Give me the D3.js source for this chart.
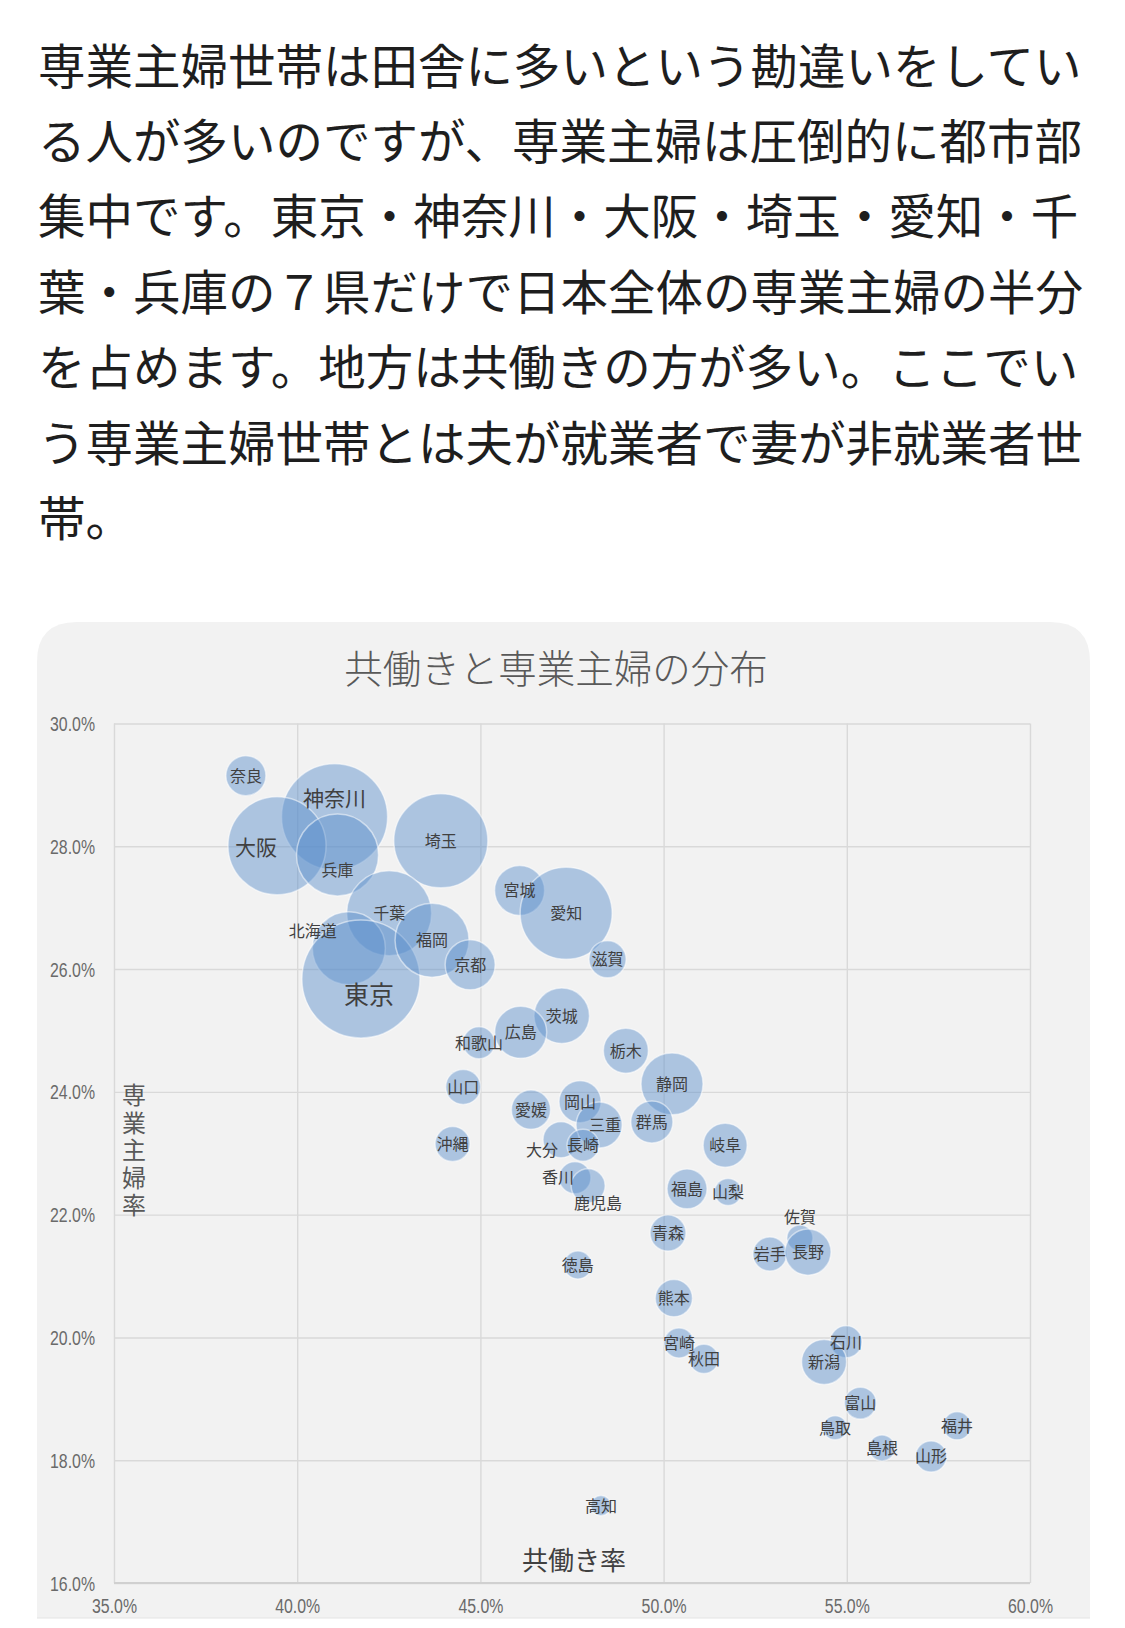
<!DOCTYPE html>
<html>
<head>
<meta charset="utf-8">
<script src="https://cdn.jsdelivr.net/npm/d3@7"></script>
<style>
  html, body { margin: 0; padding: 0; background: #ffffff; }
  svg { display: block; }
</style>
</head>
<body>
<svg id="chart" width="1125" height="1628"></svg>
<script>
// ---------------- DATA ----------------
const paragraphLines = [
  "専業主婦世帯は田舎に多いという勘違いをしてい",
  "る人が多いのですが、専業主婦は圧倒的に都市部",
  "集中です。東京・神奈川・大阪・埼玉・愛知・千",
  "葉・兵庫の７県だけで日本全体の専業主婦の半分",
  "を占めます。地方は共働きの方が多い。ここでい",
  "う専業主婦世帯とは夫が就業者で妻が非就業者世",
  "帯。"
];
const chartTitle = "共働きと専業主婦の分布";
const xAxisTitle = "共働き率";
const yAxisTitle = "専業主婦率";

const prefectures = ["奈良","神奈川","大阪","兵庫","埼玉","千葉","北海道","東京","福岡","京都",
  "宮城","愛知","滋賀","茨城","広島","和歌山","栃木","静岡","山口","沖縄",
  "愛媛","岡山","三重","大分","長崎","群馬","岐阜","香川","鹿児島","福島",
  "山梨","青森","徳島","熊本","宮崎","秋田","佐賀","岩手","長野","石川",
  "新潟","富山","鳥取","島根","福井","山形","高知"];
// 共働き率 (%)
const dualIncomeRate = [38.60,41.02,39.45,41.10,43.92,42.51,41.41,41.74,43.68,44.72,
  46.07,47.34,48.47,47.22,46.10,44.96,48.97,50.23,44.53,44.24,
  46.38,47.72,48.24,47.20,47.80,49.68,51.68,47.58,47.94,50.64,
  51.76,50.12,47.66,50.28,50.42,51.10,53.72,52.90,53.94,54.98,
  54.38,55.37,54.68,55.96,58.01,57.30,48.29];
// 専業主婦率 (%)
const housewifeRate = [29.15,28.48,28.01,27.86,28.09,26.91,26.34,25.84,26.47,26.07,
  27.28,26.91,26.16,25.24,24.97,24.80,24.67,24.13,24.08,23.15,
  23.71,23.84,23.46,23.22,23.13,23.51,23.13,22.60,22.47,22.42,
  22.37,21.70,21.18,20.64,19.91,19.65,21.62,21.36,21.39,19.93,
  19.60,18.93,18.53,18.20,18.56,18.06,17.26];
// 専業主婦世帯数 (千世帯, bubble size)
const housewifeHouseholds = [94,662,566,396,520,425,314,820,322,147,
  147,498,81,181,159,60,119,226,72,72,
  90,104,125,76,60,104,114,60,68,94,
  43,76,46,81,53,50,40,68,125,60,
  119,60,34,40,46,57,24];

const xTickValues = [35, 40, 45, 50, 55, 60];
const yTickValues = [16, 18, 20, 22, 24, 26, 28, 30];

// ---------------- LAYOUT ----------------
const card = { x: 37, y: 622, w: 1053, h: 996, r: 40 };
const plot = { left: 114, right: 1030, top: 723.5, bottom: 1583 };
const CJK = "'Noto Sans CJK JP', 'Noto Sans', sans-serif";
const NUM = "'Liberation Sans', Arial, sans-serif";

// label nudges (px) for labels that sit away from their bubble centre
const labelNudge = {
  "神奈川": [0, -19], "大阪": [-21, 2], "兵庫": [0, 15], "東京": [8, 16],
  "北海道": [-36, -17], "大分": [-19, 10], "香川": [-17, -1], "鹿児島": [10, 17],
  "佐賀": [0, -21], "三重": [6, 0]
};
const labelSize = { "東京": 25, "大阪": 21, "神奈川": 21 };

const svg = d3.select("#chart");

// paragraph
const fsP = 47.5;
svg.append("g").selectAll("text").data(paragraphLines).join("text")
  .attr("x", 38)
  .attr("y", (d, i) => 66 + i * 75.4 + fsP * 0.37)
  .attr("font-family", CJK)
  .attr("font-size", fsP)
  .attr("fill", "#1e1e1e")
  .text(d => d);

// card background with rounded top corners
const c = card;
svg.append("path")
  .attr("d", `M${c.x},${c.y + c.h} L${c.x},${c.y + c.r} Q${c.x},${c.y} ${c.x + c.r},${c.y}
    L${c.x + c.w - c.r},${c.y} Q${c.x + c.w},${c.y} ${c.x + c.w},${c.y + c.r} L${c.x + c.w},${c.y + c.h} Z`)
  .attr("fill", "#f2f2f2");
svg.append("line")
  .attr("x1", c.x).attr("x2", c.x + c.w)
  .attr("y1", c.y + c.h).attr("y2", c.y + c.h)
  .attr("stroke", "#e4e4e4").attr("stroke-width", 1);

// title
svg.append("text")
  .attr("x", 556).attr("y", 669 + 38.5 * 0.37)
  .attr("text-anchor", "middle")
  .attr("font-family", CJK).attr("font-size", 38.5).attr("font-weight", 300)
  .attr("fill", "#595959")
  .text(chartTitle);

// scales
const x = d3.scaleLinear().domain([35, 60]).range([plot.left, plot.right]);
const y = d3.scaleLinear().domain([16, 30]).range([plot.bottom, plot.top]);
const r = d3.scaleSqrt().domain([0, d3.max(housewifeHouseholds)]).range([0, 59]);
const pct = d => d3.format(".1f")(d) + "%";

// gridlines + axes
const xAxis = d3.axisBottom(x).tickValues(xTickValues).tickFormat(pct)
  .tickSize(-(plot.bottom - plot.top)).tickPadding(16);
const yAxis = d3.axisLeft(y).tickValues(yTickValues).tickFormat(pct)
  .tickSize(-(plot.right - plot.left)).tickPadding(19);

const gx = svg.append("g").attr("transform", `translate(0,${plot.bottom})`).call(xAxis);
const gy = svg.append("g").attr("transform", `translate(${plot.left},0)`).call(yAxis);
[gx, gy].forEach(g => {
  g.select(".domain").remove();
  g.selectAll(".tick line").attr("stroke", "#d9d9d9").attr("stroke-width", 1.4);
  g.selectAll(".tick text")
    .attr("font-family", NUM).attr("font-size", 19.5)
    .attr("fill", "#6a6a6a")
    .attr("textLength", 45)
    .attr("lengthAdjust", "spacingAndGlyphs");
});
gx.selectAll(".tick text").attr("dy", "0.71em").attr("y", 16);
gy.selectAll(".tick text").attr("dy", "0.36em");
// bottom axis line slightly stronger
svg.append("line")
  .attr("x1", plot.left).attr("x2", plot.right)
  .attr("y1", y(16)).attr("y2", y(16))
  .attr("stroke", "#d0d0d0").attr("stroke-width", 1.8);

// bubbles
const data = prefectures.map((name, i) => ({
  name, xv: dualIncomeRate[i], yv: housewifeRate[i], size: housewifeHouseholds[i]
}));

svg.append("g").selectAll("circle").data(data).join("circle")
  .attr("cx", d => x(d.xv))
  .attr("cy", d => y(d.yv))
  .attr("r", d => r(d.size))
  .attr("fill", "#5a8ecb")
  .attr("fill-opacity", 0.46)
  .attr("stroke", "#ffffff")
  .attr("stroke-opacity", 0.5)
  .attr("stroke-width", 1.5);

// labels
svg.append("g").selectAll("text").data(data).join("text")
  .attr("x", d => x(d.xv) + (labelNudge[d.name] ? labelNudge[d.name][0] : 0))
  .attr("y", d => {
    const fs = labelSize[d.name] || 16;
    return y(d.yv) + (labelNudge[d.name] ? labelNudge[d.name][1] : 0) + fs * 0.37;
  })
  .attr("text-anchor", "middle")
  .attr("font-family", CJK)
  .attr("font-size", d => labelSize[d.name] || 16)
  .attr("fill", "#404040")
  .text(d => d.name);

// axis titles
svg.append("text")
  .attr("x", 574).attr("y", 1560 + 26 * 0.37)
  .attr("text-anchor", "middle")
  .attr("font-family", CJK).attr("font-size", 26)
  .attr("fill", "#404040")
  .text(xAxisTitle);

svg.append("text")
  .attr("x", 134).attr("y", 1083)
  .attr("font-family", CJK).attr("font-size", 24)
  .attr("fill", "#595959")
  .style("writing-mode", "vertical-rl")
  .style("text-orientation", "upright")
  .attr("letter-spacing", 3.5)
  .text(yAxisTitle);
</script>
</body>
</html>
